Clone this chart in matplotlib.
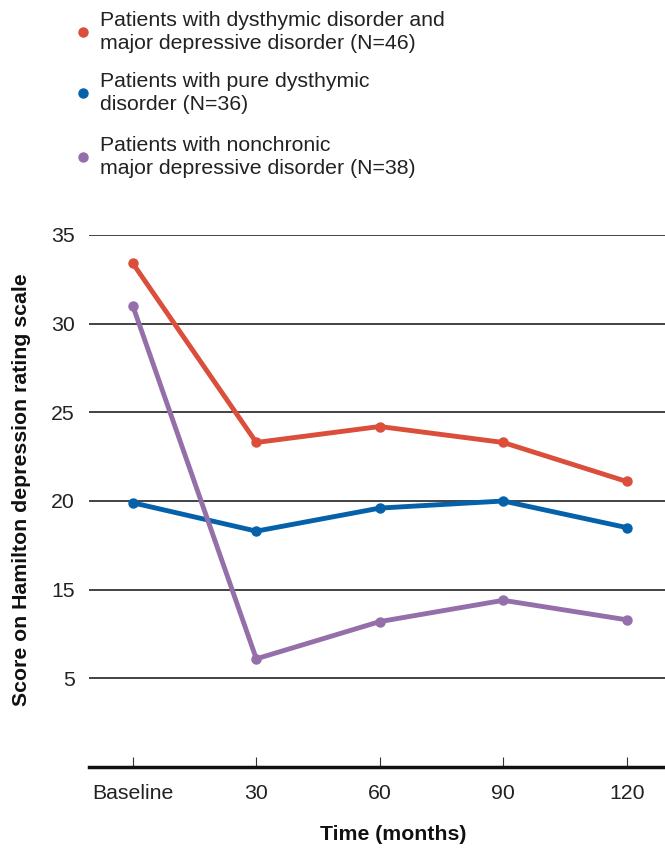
import matplotlib
matplotlib.use("Agg")
import matplotlib.pyplot as plt

categories = ["Baseline", "30", "60", "90", "120"]
ytick_values = [10, 15, 20, 25, 30, 35]
ytick_labels = ["5", "15", "20", "25", "30", "35"]

series_names = [
    "Patients with dysthymic disorder and\nmajor depressive disorder (N=46)",
    "Patients with pure dysthymic\ndisorder (N=36)",
    "Patients with nonchronic\nmajor depressive disorder (N=38)",
]
double_depression = [33.4, 23.3, 24.2, 23.3, 21.1]
pure_dysthymic = [19.9, 18.3, 19.6, 20.0, 18.5]
nonchronic_mdd = [31.0, 11.1, 13.2, 14.4, 13.3]
colors = ["#DA4E3B", "#0562AA", "#946FAA"]

plt.rcParams['font.family'] = ['Liberation Sans', 'DejaVu Sans']

fig = plt.figure(figsize=(6.65, 8.48), dpi=100)
ax = fig.add_axes([89/665, 1-767/848, 1-89/665, (767-235)/848])

x = list(range(len(categories)))
for vals, c in zip([double_depression, pure_dysthymic, nonchronic_mdd], colors):
    ax.plot(x, vals, color=c, lw=3.5, marker='o', ms=6.5, solid_capstyle='round', zorder=3)

ax.set_xlim(-0.355, 4.31)
ax.set_ylim(5, 35)
ax.set_yticks(ytick_values)
ax.set_yticklabels(ytick_labels, fontsize=15.3, color='#222222')
ax.set_xticks(x)
ax.set_xticklabels(categories, fontsize=15.3, color='#222222')
for yv in ytick_values:
    ax.axhline(yv, color='#222222', lw=1.2, zorder=1)
for s in ['top', 'right', 'left']:
    ax.spines[s].set_visible(False)
ax.spines['bottom'].set_linewidth(2.5)
ax.spines['bottom'].set_color('#111111')
ax.tick_params(axis='y', length=0, pad=10)
ax.tick_params(axis='x', direction='in', length=7, width=0.8, pad=12, color='#333333')

fig.text(22/665, 1-490/848, "Score on Hamilton depression rating scale", rotation=90,
         ha='center', va='center', fontsize=15.3, fontweight='bold', color='#111111')
fig.text(393/665, 1-835/848, "Time (months)", ha='center', va='center',
         fontsize=15.3, fontweight='bold', color='#111111')

legend_y = [32, 93, 157]
for name, c, yy in zip(series_names, colors, legend_y):
    fig.text(100/665, 1-yy/848, name, ha='left', va='center', fontsize=15.3,
             color='#222222', linespacing=1.3)
    fig.lines.append(matplotlib.lines.Line2D([83/665], [1-yy/848], marker='o', ms=6.5,
                     color=c, transform=fig.transFigure, figure=fig))

fig.savefig("out.png", dpi=100)
